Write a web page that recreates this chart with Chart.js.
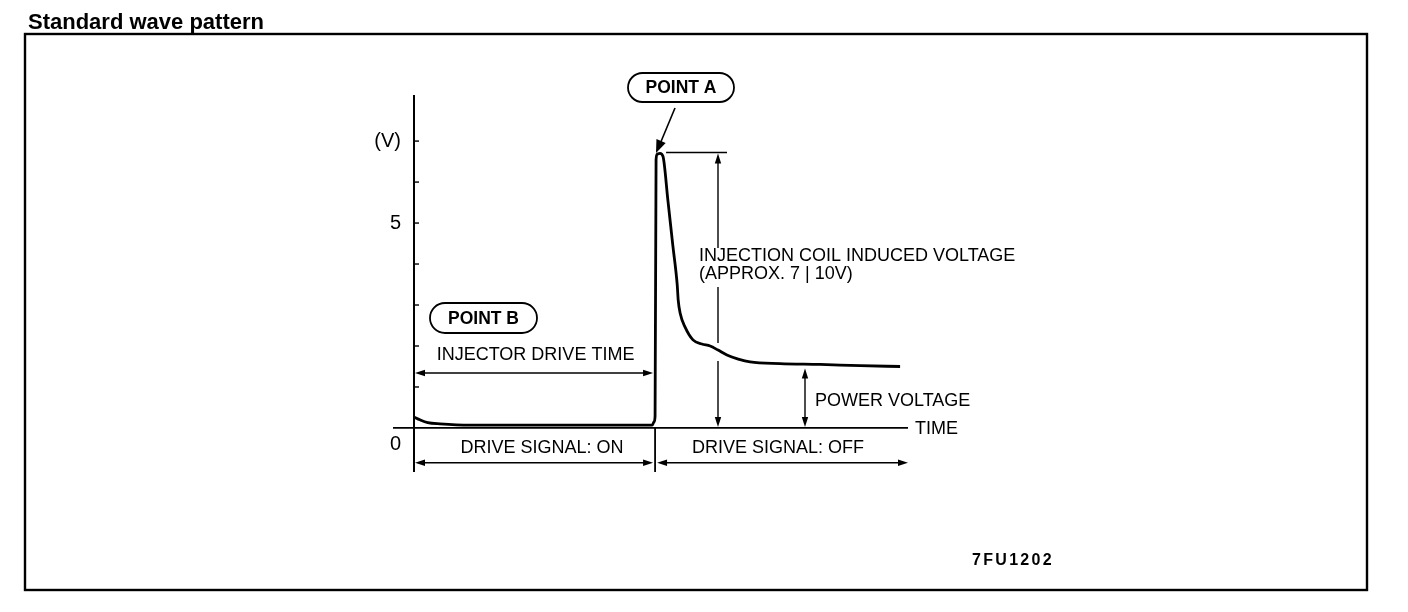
<!DOCTYPE html>
<html>
<head>
<meta charset="utf-8">
<script src="https://cdn.jsdelivr.net/npm/chart.js@4.4.1/dist/chart.umd.min.js"></script>
<style>
  html, body { margin: 0; padding: 0; background: #fff; overflow: hidden; }
  canvas { display: block; }
</style>
</head>
<body>
<canvas id="waveChart" width="1408" height="612"></canvas>
<script>
// waveform (time in arbitrary units 0-100, volts)
const timeUnits = [0, 1.2, 2.8, 5.3, 11.4, 30, 48.4, 48.8, 49.0, 49.2, 49.4, 50.0, 50.6, 51.6, 52.6,
                   53.5, 53.7, 54.1, 55.1, 56.7, 58.5, 60.2, 61.8, 63.6, 65.9, 68.3, 74.4, 82.5, 90.7, 98.8];
const voltage = [0.27, 0.2, 0.13, 0.10, 0.07, 0.07, 0.07, 0.15, 0.29, 6.54, 6.68, 6.7, 6.63, 5.56, 4.46,
                 3.49, 3.12, 2.8, 2.46, 2.15, 2.05, 2.0, 1.9, 1.78, 1.68, 1.61, 1.57, 1.55, 1.52, 1.5];

// axis marks
const voltTicks = [1, 2, 3, 4, 5, 6, 7];
const voltLabelAt = [-0.4, 5, 7];
const voltLabelText = ['0', '5', '(V)'];

// annotated levels
const driveOnEnd = 49.0;
const peakVolt = 6.72;
const powerVolt = 1.5;

const FONT = '"Liberation Sans", Arial, Helvetica, sans-serif';

function arrowHead(ctx, x, y, ang, len = 10, half = 3.2) {
    ctx.save();
    ctx.translate(x, y);
    ctx.rotate(ang);
    ctx.beginPath();
    ctx.moveTo(0, 0);
    ctx.lineTo(-len, -half);
    ctx.lineTo(-len, half);
    ctx.closePath();
    ctx.fill();
    ctx.restore();
}

function line(ctx, x1, y1, x2, y2, w = 1.5) {
    ctx.lineWidth = w;
    ctx.beginPath();
    ctx.moveTo(x1, y1);
    ctx.lineTo(x2, y2);
    ctx.stroke();
}

function hArrow(ctx, x1, x2, y) {
    line(ctx, x1 + 4, y, x2 - 4, y, 1.6);
    arrowHead(ctx, x1, y, Math.PI);
    arrowHead(ctx, x2, y, 0);
}

function pill(ctx, x, y, w, h, text) {
    const r = h / 2;
    ctx.lineWidth = 1.8;
    ctx.beginPath();
    ctx.moveTo(x + r, y);
    ctx.lineTo(x + w - r, y);
    ctx.arc(x + w - r, y + r, r, -Math.PI / 2, Math.PI / 2);
    ctx.lineTo(x + r, y + h);
    ctx.arc(x + r, y + r, r, Math.PI / 2, Math.PI * 1.5);
    ctx.closePath();
    ctx.stroke();
    ctx.font = 'bold 17.5px ' + FONT;
    ctx.textAlign = 'center';
    ctx.fillText(text, x + w / 2, y + h / 2 + 1);
}

const overlay = {
    id: 'overlay',
    beforeDraw(chart) {
        const ctx = chart.ctx;
        ctx.save();
        ctx.fillStyle = '#fff';
        ctx.fillRect(0, 0, chart.width, chart.height);
        ctx.restore();
    },
    afterDraw(chart) {
        const ctx = chart.ctx;
        const xs = chart.scales.x, ys = chart.scales.y;
        const area = chart.chartArea;
        const x0 = xs.getPixelForValue(0);
        const xOn = xs.getPixelForValue(driveOnEnd);
        const y0 = ys.getPixelForValue(0);
        const yPeak = ys.getPixelForValue(peakVolt);
        const yPow = ys.getPixelForValue(powerVolt);

        ctx.save();
        ctx.strokeStyle = '#000';
        ctx.fillStyle = '#000';
        ctx.textBaseline = 'middle';

        // frame and heading
        ctx.lineWidth = 2.4;
        ctx.strokeRect(25, 34, 1342, 556);
        ctx.font = 'bold 22px ' + FONT;
        ctx.textAlign = 'left';
        ctx.textBaseline = 'alphabetic';
        ctx.fillText('Standard wave pattern', 28, 29);
        ctx.textBaseline = 'middle';

        // inner ticks on the voltage axis
        voltTicks.forEach(v => {
            const y = ys.getPixelForValue(v);
            line(ctx, x0, y, x0 + 5, y, 1.4);
        });

        // time axis at 0 V
        line(ctx, x0 - 21, y0, area.right + 2, y0, 1.8);
        ctx.font = '18px ' + FONT;
        ctx.textAlign = 'left';
        ctx.fillText('TIME', 915, y0 + 1);

        // drive on / off divider and arrows
        line(ctx, xOn, y0, xOn, area.bottom + 1, 1.8);
        const yDrive = ys.getPixelForValue(-0.85);
        hArrow(ctx, x0 + 1, xOn - 2, yDrive);
        hArrow(ctx, xOn + 2, area.right + 2, yDrive);
        ctx.textAlign = 'center';
        ctx.fillText('DRIVE SIGNAL: ON', 542, y0 + 20);
        ctx.fillText('DRIVE SIGNAL: OFF', 778, y0 + 20);

        // injector drive time
        hArrow(ctx, x0 + 1, xOn - 2, 373);
        ctx.fillText('INJECTOR DRIVE TIME', (x0 + xOn) / 2 + 1, 355);
        pill(ctx, 430, 303, 107, 30, 'POINT B');

        // point A
        pill(ctx, 628, 73, 106, 29, 'POINT A');
        line(ctx, 675, 108, 660, 144, 1.6);
        arrowHead(ctx, 656, 153, Math.atan2(153 - 108, 656 - 675), 13, 5);

        // induced voltage span
        const xv = 718;
        line(ctx, xOn + 11, yPeak, 727, yPeak, 1.4);
        line(ctx, xv, yPeak + 8, xv, 248, 1.4);
        line(ctx, xv, 287, xv, 343, 1.4);
        line(ctx, xv, 361, xv, y0 - 8, 1.4);
        arrowHead(ctx, xv, yPeak + 1, -Math.PI / 2);
        arrowHead(ctx, xv, y0 - 1, Math.PI / 2);
        ctx.textAlign = 'left';
        ctx.font = '18px ' + FONT;
        ctx.fillText('INJECTION COIL INDUCED VOLTAGE', 699, 256);
        ctx.fillText('(APPROX. 7 | 10V)', 699, 274);

        // power voltage span
        const xp = 805;
        line(ctx, xp, yPow + 8, xp, y0 - 8, 1.4);
        arrowHead(ctx, xp, yPow + 2, -Math.PI / 2);
        arrowHead(ctx, xp, y0 - 1, Math.PI / 2);
        ctx.fillText('POWER VOLTAGE', 815, 401);

        // figure code
        ctx.font = 'bold 16px ' + FONT;
        ctx.letterSpacing = '2.3px';
        ctx.fillText('7FU1202', 972, 561);
        ctx.restore();
    }
};

new Chart(document.getElementById('waveChart'), {
    type: 'line',
    data: {
        datasets: [{
            label: 'Injector voltage',
            data: timeUnits.map((t, i) => ({ x: t, y: voltage[i] })),
            borderColor: '#000',
            borderWidth: 2.8,
            pointRadius: 0,
            cubicInterpolationMode: 'monotone',
            fill: false
        }]
    },
    options: {
        responsive: false,
        animation: false,
        devicePixelRatio: 1,
        layout: { padding: { left: 0, top: 96, right: 502, bottom: 141 } },
        plugins: {
            legend: { display: false },
            tooltip: { enabled: false }
        },
        scales: {
            x: { type: 'linear', min: 0, max: 100, display: false },
            y: {
                type: 'linear',
                min: -1.05,
                max: 8.1,
                afterFit: s => { s.width = 414; },
                afterBuildTicks: s => { s.ticks = voltLabelAt.map(v => ({ value: v })); },
                grid: { display: false, drawTicks: false },
                border: { display: true, color: '#000', width: 2 },
                ticks: {
                    color: '#000',
                    padding: 13,
                    font: { family: FONT, size: 20 },
                    callback: (v, i) => voltLabelText[i]
                }
            }
        }
    },
    plugins: [overlay]
});
</script>
</body>
</html>
